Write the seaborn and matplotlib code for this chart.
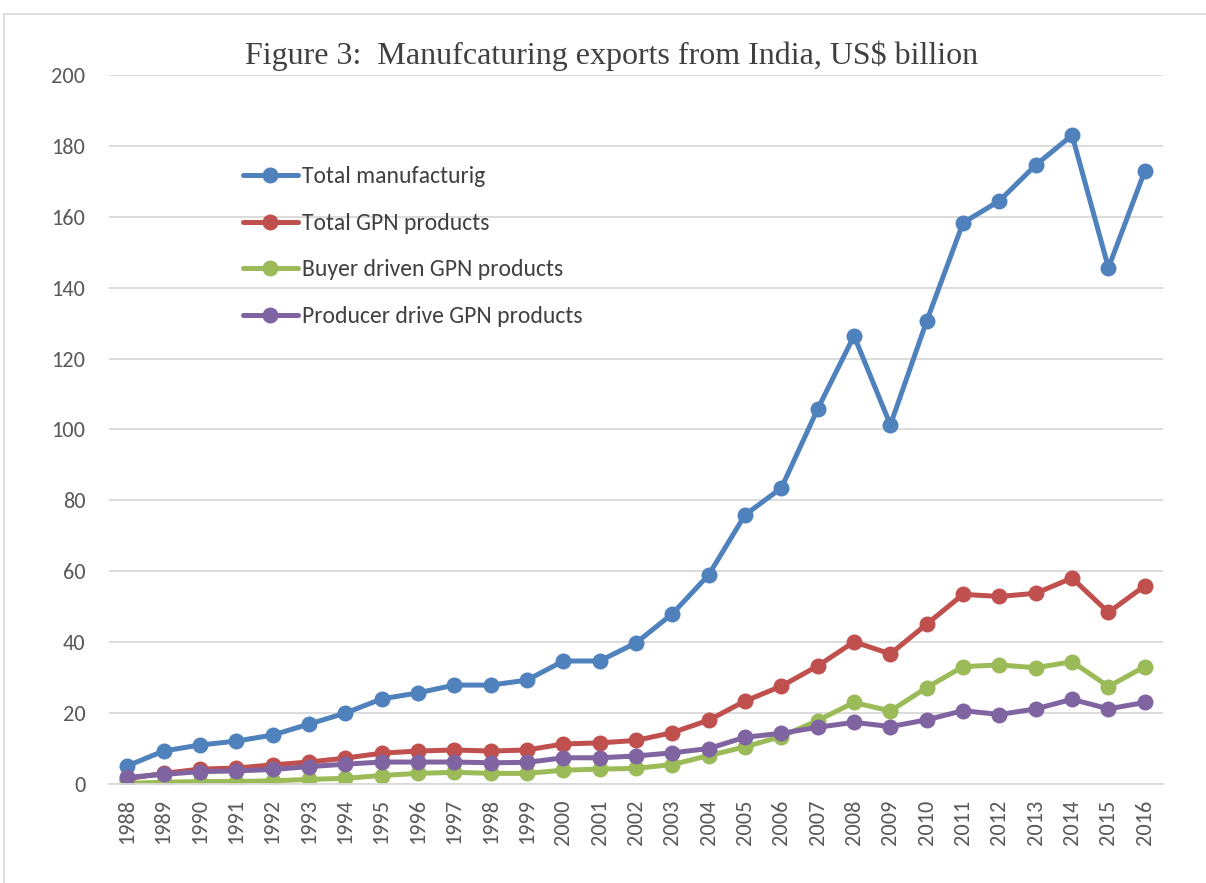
import matplotlib
matplotlib.use("Agg")
import matplotlib.pyplot as plt
import seaborn as sns
import pandas as pd
from matplotlib.patches import Rectangle

years = [str(y) for y in range(1988, 2017)]
total_manufacturing = [5.1, 9.3, 11.0, 12.1, 13.8, 16.9, 20.0, 24.0, 25.7, 27.9, 27.9, 29.3,
                       34.7, 34.7, 39.8, 48.0, 59.0, 75.9, 83.5, 105.8, 126.4, 101.3, 130.6,
                       158.3, 164.5, 174.6, 183.0, 145.6, 172.9]
total_gpn = [1.5, 3.0, 4.2, 4.5, 5.4, 6.2, 7.3, 8.7, 9.3, 9.6, 9.3, 9.6,
             11.3, 11.6, 12.3, 14.5, 18.0, 23.4, 27.6, 33.3, 40.1, 36.7, 45.1,
             53.5, 52.9, 53.8, 58.1, 48.4, 55.9]
buyer_gpn = [0.2, 0.5, 0.7, 0.7, 0.9, 1.3, 1.6, 2.4, 3.0, 3.3, 3.0, 3.0,
             3.9, 4.2, 4.4, 5.5, 8.0, 10.5, 13.4, 17.9, 23.0, 20.6, 27.2,
             33.1, 33.6, 32.8, 34.5, 27.5, 33.1]
producer_gpn = [1.9, 2.7, 3.5, 3.7, 4.1, 4.9, 5.6, 6.2, 6.2, 6.2, 6.0, 6.1,
                7.4, 7.4, 7.9, 8.8, 10.0, 13.2, 14.3, 16.0, 17.4, 16.2, 18.1,
                20.7, 19.6, 21.2, 23.9, 21.2, 23.0]
series_names = ["Total manufacturig", "Total GPN products",
                "Buyer driven GPN products", "Producer drive GPN products"]
title = "Figure 3:  Manufcaturing exports from India, US$ billion"

colors = ["#4F81BD", "#C0504D", "#9BBB59", "#8064A2"]

rows = []
for name, vals in zip(series_names, [total_manufacturing, total_gpn, buyer_gpn, producer_gpn]):
    for y, v in zip(years, vals):
        rows.append({"Year": y, "Value": v, "Series": name})
df = pd.DataFrame(rows)

sns.set_style("white")
plt.rcParams['font.family'] = ['Carlito', 'Open Sans', 'DejaVu Sans']

fig = plt.figure(figsize=(12.06, 8.83), dpi=100)
ax = fig.add_axes([0.0904, 0.1121, 0.9643 - 0.0904, 0.9151 - 0.1121])

sns.lineplot(data=df, x="Year", y="Value", hue="Series", hue_order=series_names,
             palette=colors, marker="o", markersize=11.5, markeredgewidth=0,
             linewidth=3.6, ax=ax, sort=False)

ax.set_xlim(-0.5, len(years) - 0.5)
ax.set_ylim(0, 200)
ax.set_yticks(range(0, 201, 20))
ax.yaxis.grid(True, color="#D9D9D9", linewidth=1.3)
ax.xaxis.grid(False)
ax.set_axisbelow(True)
for s in ["top", "right", "left"]:
    ax.spines[s].set_visible(False)
ax.spines["bottom"].set_color("#D9D9D9")
ax.spines["bottom"].set_linewidth(1.3)
ax.set_xlabel("")
ax.set_ylabel("")
ax.tick_params(axis="both", length=0, labelsize=16, labelcolor="#595959")
ax.tick_params(axis="y", pad=17)
ax.tick_params(axis="x", pad=11)
plt.setp(ax.get_xticklabels(), rotation=90)

leg = ax.legend(loc="upper left", bbox_to_anchor=(0.118, 0.8845), frameon=False,
                fontsize=17, labelspacing=1.08, handlelength=2.33, handletextpad=0.17,
                borderaxespad=0)
for t in leg.get_texts():
    t.set_color("#404040")
for h in leg.get_lines():
    h.set_linewidth(3.6)
    h.set_markersize(11.5)

fig.text(0.5075, 0.937, title, ha="center", va="center", fontsize=23,
         family=["Liberation Serif", "DejaVu Serif"], color="#404040")

fig.patches.append(Rectangle((0.0035, -0.01), 1.0, 0.994, transform=fig.transFigure,
                             fill=False, edgecolor="#D9D9D9", linewidth=1.2))

fig.savefig("out.png", dpi=100)
